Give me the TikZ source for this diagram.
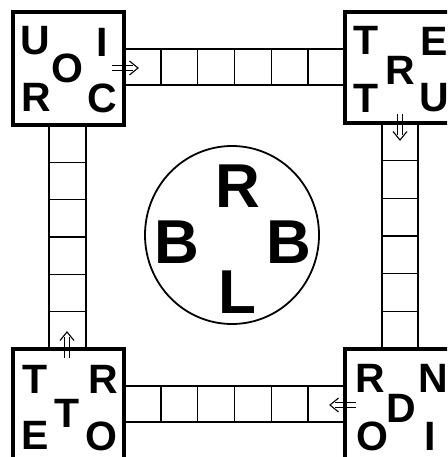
\documentclass[tikz,border=0pt]{standalone}
\usepackage{fontspec}
\setmainfont{Liberation Sans}
\begin{document}
\begin{tikzpicture}[x=1pt,y=-1pt,
  cornerbox/.style={line width=3.6pt},
  track/.style={line width=1.4pt},
  bl/.style={anchor=base,inner sep=0pt,font=\fontsize{41}{41}\selectfont\bfseries},
  cl/.style={anchor=base,inner sep=0pt,font=\fontsize{62}{62}\selectfont\bfseries},
  dirarrow/.pic={
    \draw[line width=1.1pt] (0,-2.4) -- (21,-2.4) (0,2.4) -- (21,2.4);
    \draw[line width=1.1pt,line join=miter] (17.5,-7) .. controls (21,-3) .. (26,0) .. controls (21,3) .. (17.5,7);}]
\useasboundingbox (0,0) rectangle (447,457);
\begin{scope}
\clip (0,0) rectangle (447,457);
% tracks
\draw[track] (124,49) rectangle (345,85);
\foreach \i in {1,...,5} \draw[track] ({124+\i*36.83},49) -- ({124+\i*36.83},85);
\draw[track] (124,386) rectangle (345,422);
\foreach \i in {1,...,5} \draw[track] ({124+\i*36.83},386) -- ({124+\i*36.83},422);
\draw[track] (49,125) rectangle (86,349);
\foreach \i in {1,...,5} \draw[track] (49,{125+\i*37.33}) -- (86,{125+\i*37.33});
\draw[track] (382,123) rectangle (418,349);
\foreach \i in {1,...,5} \draw[track] (382,{123+\i*37.67}) -- (418,{123+\i*37.67});
% corner boxes
\draw[cornerbox,fill=white] (13,12) rectangle (124,125);
\draw[cornerbox,fill=white] (345,12) rectangle (458,123);
\draw[cornerbox,fill=white] (13,349) rectangle (124,462);
\draw[cornerbox,fill=white] (345,349) rectangle (458,462);
% circle
\draw[line width=1.8pt] (232,235) ellipse [x radius=87, y radius=89];
% letters top-left
\node[bl] (tlU) at (35,55) {U};
\node[bl] (tlI) at (102,57) {I};
\node[bl] (tlO) at (67,83) {O};
\node[bl] (tlR) at (36,112) {R};
\node[bl] (tlC) at (102,113) {C};
% top-right
\node[bl] (trT) at (366,55) {T};
\node[bl] (trE) at (434,56) {E};
\node[bl] (trR) at (400,85) {R};
\node[bl] (trT2) at (366,113) {T};
\node[bl] (trU) at (434,112) {U};
% bottom-left
\node[bl] (blT) at (35,393) {T};
\node[bl] (blR) at (103,393) {R};
\node[bl] (blT2) at (67,427) {T};
\node[bl] (blE) at (35,449) {E};
\node[bl] (blO) at (101,450) {O};
% bottom-right
\node[bl] (brR) at (370,392) {R};
\node[bl] (brN) at (433,392) {N};
\node[bl] (brD) at (401,422) {D};
\node[bl] (brO) at (372,450) {O};
\node[bl] (brI) at (430,450) {I};
% circle letters
\node[cl] (cR) at (238,207) {R};
\node[cl] (cB1) at (177,263) {B};
\node[cl] (cB2) at (289,263) {B};
\node[cl] (cL) at (237,313) {L};
% direction arrows
\coordinate (a1s) at (112,68);
\coordinate (a2s) at (400,114);
\coordinate (a3s) at (356,405);
\coordinate (a4s) at (67,358);
\pic at (a1s) {dirarrow};
\pic[rotate=-90] at (a2s) {dirarrow};
\pic[rotate=180] at (a3s) {dirarrow};
\pic[rotate=90] at (a4s) {dirarrow};
\end{scope}
\end{tikzpicture}
\end{document}
